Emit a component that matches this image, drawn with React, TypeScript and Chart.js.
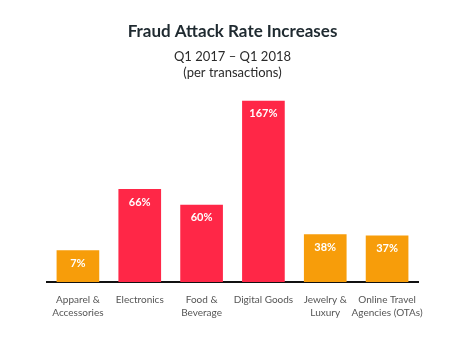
import React, { useEffect, useRef } from "react";
import { Chart, registerables } from "chart.js";

Chart.register(...registerables);

const categories: string[][] = [
  ["Apparel &", "Accessories"],
  ["Electronics"],
  ["Food &", "Beverage"],
  ["Digital Goods"],
  ["Jewelry &", "Luxury"],
  ["Online Travel", "Agencies (OTAs)"],
];
// Increase (%) printed on each bar
const increases: number[] = [7, 66, 60, 167, 38, 37];
// Drawn bar heights (not proportional in the original infographic)
const barHeights: number[] = [29.7, 86.9, 72.2, 169.4, 44.7, 43.4];
const barColors: string[] = ["#F79D0A", "#FF2747", "#FF2747", "#FF2747", "#F79D0A", "#F79D0A"];

const FONT = "Lato, 'Open Sans', 'DejaVu Sans', sans-serif";

const valueLabels = {
  id: "valueLabels",
  afterDatasetsDraw(chart: any) {
    const ctx = chart.ctx;
    const meta = chart.getDatasetMeta(0);
    ctx.save();
    ctx.fillStyle = "#ffffff";
    ctx.font = `bold 11px ${FONT}`;
    ctx.textAlign = "center";
    ctx.textBaseline = "middle";
    meta.data.forEach((bar: any, i: number) => {
      ctx.fillText(`${increases[i]}%`, bar.x, bar.y + 13);
    });
    ctx.restore();
  },
};

export default function App() {
  const ref = useRef<HTMLCanvasElement | null>(null);
  useEffect(() => {
    if (!ref.current) return;
    const chart = new Chart(ref.current, {
      type: "bar",
      data: {
        labels: categories,
        datasets: [
          {
            data: barHeights,
            backgroundColor: barColors,
            borderWidth: 0,
            barPercentage: 0.69,
            categoryPercentage: 1,
          },
        ],
      },
      options: {
        animation: false,
        responsive: false,
        maintainAspectRatio: false,
        layout: { padding: { left: 47, right: 47, top: 0, bottom: 0 } },
        plugins: {
          legend: { display: false },
          tooltip: { enabled: false },
          title: {
            display: true,
            text: "Fraud Attack Rate Increases",
            color: "#1f2a30",
            font: { family: FONT, size: 17, weight: "bold", lineHeight: 1.2 },
            padding: { top: 21, bottom: 7 },
          },
          subtitle: {
            display: true,
            text: ["Q1 2017 \u2013 Q1 2018", "(per transactions)"],
            color: "#2b2b2b",
            font: { family: FONT, size: 13, lineHeight: 1.23 },
            padding: { top: 0, bottom: 9 },
          },
        },
        scales: {
          x: {
            grid: { display: false, drawTicks: false },
            border: { display: true, color: "#111111", width: 2 },
            ticks: {
              color: "#555555",
              font: { family: FONT, size: 10, lineHeight: 1.3 },
              padding: 11,
              maxRotation: 0,
              autoSkip: false,
            },
            afterFit(scale: any) {
              scale.height = 57;
            },
          },
          y: {
            display: false,
            min: 0,
            max: 180,
          },
        },
      },
      plugins: [valueLabels],
    });
    return () => chart.destroy();
  }, []);
  return (
    <div style={{ position: "absolute", left: 0, top: 0, width: 465, height: 339, background: "#fff" }}>
      <canvas ref={ref} width={465} height={339} style={{ width: 465, height: 339 }} />
    </div>
  );
}
